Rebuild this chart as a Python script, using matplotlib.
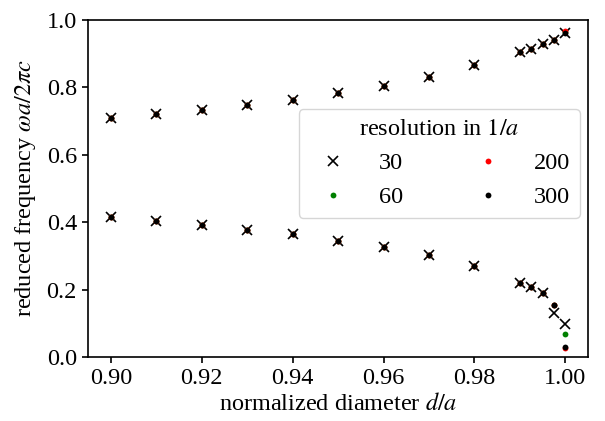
import matplotlib
matplotlib.use("Agg")
import matplotlib.pyplot as plt

plt.rcParams['font.family'] = ['Liberation Serif', 'DejaVu Serif']
plt.rcParams['mathtext.fontset'] = 'stix'
plt.rcParams['font.size'] = 17.5

# normalized diameter d/a
diam = [0.90, 0.91, 0.92, 0.93, 0.94, 0.95, 0.96, 0.97, 0.98,
        0.99, 0.9925, 0.995, 0.9975, 1.00]

# upper band (reduced frequency), per resolution
upper_30 = [0.709, 0.720, 0.733, 0.748, 0.763, 0.782, 0.804, 0.832, 0.866,
            0.905, 0.915, 0.928, 0.942, 0.962]
upper_60 = [0.709, 0.720, 0.733, 0.748, 0.763, 0.782, 0.804, 0.832, 0.866,
            0.905, 0.915, 0.928, 0.942, 0.963]
upper_200 = [0.709, 0.720, 0.733, 0.748, 0.763, 0.782, 0.804, 0.832, 0.866,
             0.905, 0.915, 0.928, 0.942, 0.966]
upper_300 = [0.709, 0.720, 0.733, 0.748, 0.763, 0.782, 0.804, 0.832, 0.866,
             0.905, 0.915, 0.928, 0.942, 0.962]

# lower band
lower_30 = [0.416, 0.404, 0.392, 0.378, 0.364, 0.345, 0.327, 0.302, 0.270,
            0.221, 0.209, 0.189, 0.130, 0.098]
lower_60 = [0.416, 0.404, 0.392, 0.378, 0.364, 0.345, 0.327, 0.302, 0.270,
            0.221, 0.209, 0.189, 0.154, 0.067]
lower_200 = [0.416, 0.404, 0.392, 0.378, 0.364, 0.345, 0.327, 0.302, 0.270,
             0.221, 0.209, 0.189, 0.154, 0.026]
lower_300 = [0.416, 0.404, 0.392, 0.378, 0.364, 0.345, 0.327, 0.302, 0.270,
             0.221, 0.209, 0.189, 0.154, 0.030]

resolutions = ['30', '60', '200', '300']
colors = ['black', 'green', 'red', 'black']
markers = ['x', 'o', 'o', 'o']
msizes = [6.5, 4.2, 4.2, 4.2]
uppers = [upper_30, upper_60, upper_200, upper_300]
lowers = [lower_30, lower_60, lower_200, lower_300]

fig = plt.figure(figsize=(6.05, 4.21), dpi=100)
ax = fig.add_axes([0.1455, 0.152, 0.8265, 0.8005])

for res, c, m, ms, up, lo in zip(resolutions, colors, markers, msizes, uppers, lowers):
    mew = 1.2 if m == 'x' else 0.0
    ax.plot(diam, up, linestyle='none', marker=m, color=c, markersize=ms,
            markeredgewidth=mew, label=res)
    ax.plot(diam, lo, linestyle='none', marker=m, color=c, markersize=ms,
            markeredgewidth=mew)

ax.set_xlim(0.895, 1.005)
ax.set_ylim(0.0, 1.0)
ax.set_xticks([0.90, 0.92, 0.94, 0.96, 0.98, 1.00])
ax.set_xticklabels(['0.90', '0.92', '0.94', '0.96', '0.98', '1.00'])
ax.set_yticks([0.0, 0.2, 0.4, 0.6, 0.8, 1.0])
ax.set_yticklabels(['0.0', '0.2', '0.4', '0.6', '0.8', '1.0'])
ax.tick_params(length=4.5, width=1.2)
ax.set_xlabel(r'normalized diameter $d/a$', labelpad=3)
ax.set_ylabel(r'reduced frequency $\omega a/2\pi c$', labelpad=6)
for s in ax.spines.values():
    s.set_linewidth(1.2)

ax.legend(title=r'resolution in $1/a$', ncol=2, loc='upper right',
          bbox_to_anchor=(0.984, 0.735), borderaxespad=0.0,
          fontsize=17.5, title_fontsize=17.5, columnspacing=2.5,
          handletextpad=0.9)

fig.savefig('out.png', dpi=100)
